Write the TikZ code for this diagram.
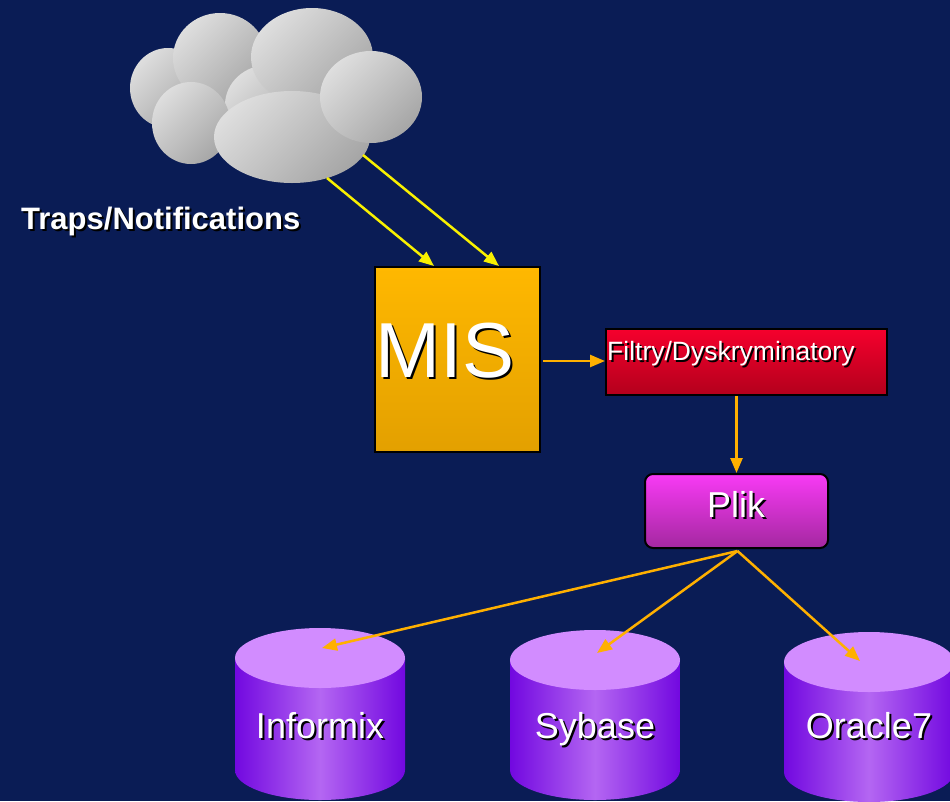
\documentclass[tikz,border=0pt]{standalone}
\usepackage{fontspec}
\setmainfont{Liberation Sans}
\usetikzlibrary{arrows.meta,calc}
\definecolor{bg}{HTML}{0A1C55}
\definecolor{cloudA}{HTML}{DEDEDE}
\definecolor{cloudB}{HTML}{A6A6A6}
\definecolor{yarrow}{HTML}{F8F000}
\definecolor{oarrow}{HTML}{FFB000}
\definecolor{misA}{HTML}{FFB800}
\definecolor{misB}{HTML}{E3A000}
\definecolor{filA}{HTML}{F5002D}
\definecolor{filB}{HTML}{B3001C}
\definecolor{plikA}{HTML}{F83AF5}
\definecolor{plikB}{HTML}{A428A0}
\definecolor{cylA}{HTML}{7208E0}
\definecolor{cylB}{HTML}{B466F2}
\definecolor{cylT}{HTML}{D28CFF}
\newcommand\shd[1]{\makebox[0pt][l]{\kern2pt\raisebox{-2pt}{\color{black}#1}}#1}
\tikzset{
  cloudpart/.style={top color=cloudA, bottom color=cloudB, shading angle=45},
  yarr/.style={draw=yarrow, line width=2.5pt, -{Triangle[length=15pt,width=12pt]}},
  oarr/.style={draw=oarrow, line width=2.5pt, -{Triangle[length=15pt,width=12pt]}},
  boxline/.style={draw=black, line width=2pt},
  cylbody/.style={left color=cylA, right color=cylA, middle color=cylB},
  cyltop/.style={fill=cylT},
  dbtxt/.style={text=white, font=\fontsize{36}{40}\selectfont, inner sep=0pt, anchor=base},
}
\begin{document}
\begin{tikzpicture}[x=1pt,y=-1pt]
\fill[bg] (0,0) rectangle (950,801);
\useasboundingbox (0,0) rectangle (950,801);

% cloud
\path[cloudpart] (168,88) ellipse [x radius=38pt, y radius=40pt];
\path[cloudpart] (220,58) ellipse [x radius=47pt, y radius=45pt];
\path[cloudpart] (268,105) ellipse [x radius=43pt, y radius=40pt];
\path[cloudpart] (312,57) ellipse [x radius=61pt, y radius=49pt];
\path[cloudpart] (191,123) ellipse [x radius=39pt, y radius=41pt];
\path[cloudpart] (292,137) ellipse [x radius=78pt, y radius=46pt];
\path[cloudpart] (371,97) ellipse [x radius=51pt, y radius=46pt];
\coordinate (cl1) at (327,178);
\coordinate (cl2) at (363,155);

\node[text=white, font=\bfseries\fontsize{31}{35}\selectfont, anchor=base west, inner sep=0pt] (traps) at (21,229) {\shd{Traps/Notifications}};

% MIS
\node[boxline, top color=misA, bottom color=misB, minimum width=165pt, minimum height=185pt, inner sep=0pt] (mis) at (457.5,359.5) {};
\node[text=white, font=\fontsize{78}{82}\selectfont, inner sep=0pt, anchor=base] (mistxt) at (445,377) {\shd{MIS}};

% Filtry
\node[boxline, top color=filA, bottom color=filB, minimum width=281pt, minimum height=66pt, inner sep=0pt] (filt) at (746.5,362) {};
\node[text=white, font=\fontsize{26.5}{30}\selectfont, anchor=base west, inner sep=0pt] (filttxt) at (607,360) {\shd{Filtry/Dyskryminatory}};

% Plik
\node[boxline, rounded corners=8pt, top color=plikA, bottom color=plikB, minimum width=183pt, minimum height=74pt, inner sep=0pt] (plik) at (736.5,511) {};
\node[text=white, font=\fontsize{36}{40}\selectfont, inner sep=0pt, anchor=base] (pliktxt) at (736,517) {\shd{Plik}};

% cylinders
\path[cylbody] (235,658) rectangle (405,770) (320,770) ellipse [x radius=85pt, y radius=30pt];
\path[cyltop] (320,658) ellipse [x radius=85pt, y radius=30pt];
\node[dbtxt] (informix) at (320,738) {\shd{Informix}};

\path[cylbody] (510,660) rectangle (680,770) (595,770) ellipse [x radius=85pt, y radius=30pt];
\path[cyltop] (595,660) ellipse [x radius=85pt, y radius=30pt];
\node[dbtxt] (sybase) at (595,738) {\shd{Sybase}};

\path[cylbody] (784,662) rectangle (954,772) (869,772) ellipse [x radius=85pt, y radius=30pt];
\path[cyltop] (869,662) ellipse [x radius=85pt, y radius=30pt];
\node[dbtxt] (oracle) at (869,738) {\shd{Oracle7}};

\coordinate (tinf) at (322,648);
\coordinate (tsyb) at (597,653);
\coordinate (tora) at (860,661);

% connectors
\draw[yarr] (cl1) -- ($(mis.north west)+(60,0)$);
\draw[yarr] (cl2) -- ($(mis.north west)+(125,0)$);
\draw[oarr] ($(mis.east)+(2,1.5)$) -- ($(mis.east -| filt.west)+(0,1.5)$);
\draw[oarr] (plik.north |- filt.south) -- (plik.north);
\draw[oarr] ($(plik.south)+(1,2)$) -- (tinf);
\draw[oarr] ($(plik.south)+(1,2)$) -- (tsyb);
\draw[oarr] ($(plik.south)+(1,2)$) -- (tora);
\end{tikzpicture}
\end{document}
